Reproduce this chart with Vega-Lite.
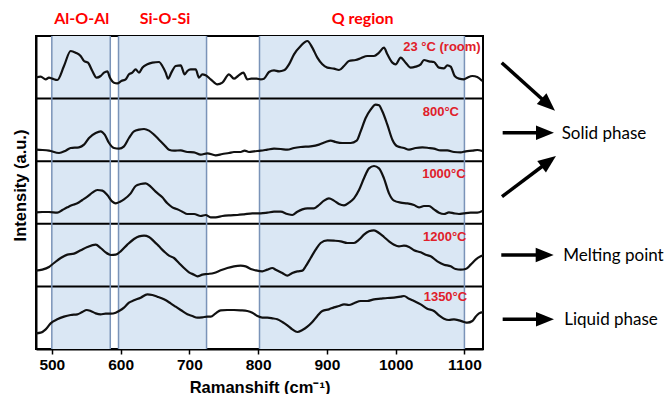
{
"$schema": "https://vega.github.io/schema/vega-lite/v6.json",
"width": 447, "height": 313,
"autosize": {"type": "none"},
"padding": {"left": 36, "top": 36, "right": 183, "bottom": 45},
"background": "white",
"config": {"view": {"stroke": "black", "strokeWidth": 2}, "font": "Liberation Sans",
 "axis": {"labelFont": "Liberation Sans", "labelFontWeight": 700, "labelFontSize": 15.5, "labelColor": "black",
  "titleFont": "Liberation Sans", "titleFontWeight": "bold", "titleColor": "black",
  "domainColor": "black", "domainWidth": 2, "tickColor": "black", "tickWidth": 1.5, "grid": false},
 "axisX": {"titleFontSize": 16.5, "labelPadding": 3},
 "axisY": {"titleFontSize": 16.5}},
"datasets": {
"spectra": [
{"t":"23","x":476.5,"y":814},{"t":"23","x":483.8,"y":817},{"t":"23","x":491.1,"y":809},{"t":"23","x":495.9,"y":814},{"t":"23","x":500.8,"y":811},{"t":"23","x":508.0,"y":807},{"t":"23","x":517.7,"y":849},{"t":"23","x":527.4,"y":894},{"t":"23","x":534.7,"y":889},{"t":"23","x":541.9,"y":879},{"t":"23","x":546.8,"y":864},{"t":"23","x":552.6,"y":859},{"t":"23","x":558.9,"y":834},{"t":"23","x":565.2,"y":814},{"t":"23","x":571.0,"y":819},{"t":"23","x":575.9,"y":829},{"t":"23","x":580.7,"y":833},{"t":"23","x":584.6,"y":814},{"t":"23","x":590.4,"y":799},{"t":"23","x":595.3,"y":797},{"t":"23","x":601.1,"y":804},{"t":"23","x":607.4,"y":809},{"t":"23","x":612.2,"y":824},{"t":"23","x":617.1,"y":829},{"t":"23","x":621.9,"y":839},{"t":"23","x":626.8,"y":829},{"t":"23","x":631.6,"y":844},{"t":"23","x":638.9,"y":854},{"t":"23","x":646.2,"y":859},{"t":"23","x":655.9,"y":861},{"t":"23","x":660.7,"y":849},{"t":"23","x":665.6,"y":829},{"t":"23","x":669.0,"y":811},{"t":"23","x":673.8,"y":829},{"t":"23","x":680.1,"y":849},{"t":"23","x":687.4,"y":851},{"t":"23","x":693.2,"y":824},{"t":"23","x":697.1,"y":834},{"t":"23","x":701.9,"y":839},{"t":"23","x":709.2,"y":839},{"t":"23","x":714.0,"y":814},{"t":"23","x":718.9,"y":824},{"t":"23","x":723.7,"y":821},{"t":"23","x":731.0,"y":809},{"t":"23","x":740.7,"y":794},{"t":"23","x":748.0,"y":799},{"t":"23","x":757.6,"y":824},{"t":"23","x":764.9,"y":811},{"t":"23","x":770.7,"y":819},{"t":"23","x":778.5,"y":829},{"t":"23","x":784.3,"y":809},{"t":"23","x":790.1,"y":811},{"t":"23","x":797.9,"y":811},{"t":"23","x":803.7,"y":809},{"t":"23","x":808.5,"y":811},{"t":"23","x":815.8,"y":831},{"t":"23","x":823.1,"y":836},{"t":"23","x":830.4,"y":833},{"t":"23","x":837.6,"y":836},{"t":"23","x":844.9,"y":854},{"t":"23","x":852.2,"y":884},{"t":"23","x":861.9,"y":909},{"t":"23","x":871.6,"y":924},{"t":"23","x":878.8,"y":904},{"t":"23","x":886.1,"y":874},{"t":"23","x":893.4,"y":854},{"t":"23","x":900.6,"y":844},{"t":"23","x":910.3,"y":841},{"t":"23","x":917.6,"y":837},{"t":"23","x":924.9,"y":849},{"t":"23","x":932.1,"y":864},{"t":"23","x":941.8,"y":867},{"t":"23","x":949.1,"y":872},{"t":"23","x":958.8,"y":879},{"t":"23","x":968.5,"y":879},{"t":"23","x":975.8,"y":889},{"t":"23","x":983.0,"y":904},{"t":"23","x":987.9,"y":884},{"t":"23","x":995.2,"y":859},{"t":"23","x":1000.0,"y":854},{"t":"23","x":1007.3,"y":874},{"t":"23","x":1014.5,"y":859},{"t":"23","x":1021.8,"y":844},{"t":"23","x":1029.1,"y":847},{"t":"23","x":1036.4,"y":854},{"t":"23","x":1041.2,"y":867},{"t":"23","x":1048.5,"y":863},{"t":"23","x":1055.7,"y":861},{"t":"23","x":1063.0,"y":844},{"t":"23","x":1070.3,"y":842},{"t":"23","x":1075.1,"y":851},{"t":"23","x":1080.0,"y":847},{"t":"23","x":1085.8,"y":819},{"t":"23","x":1092.1,"y":811},{"t":"23","x":1099.4,"y":809},{"t":"23","x":1104.2,"y":814},{"t":"23","x":1111.5,"y":819},{"t":"23","x":1118.7,"y":816},{"t":"23","x":1126.0,"y":804},
{"t":"800","x":476.5,"y":598},{"t":"800","x":486.2,"y":597},{"t":"800","x":495.9,"y":595},{"t":"800","x":510.5,"y":588},{"t":"800","x":520.1,"y":595},{"t":"800","x":527.4,"y":603},{"t":"800","x":539.5,"y":605},{"t":"800","x":546.8,"y":613},{"t":"800","x":554.1,"y":633},{"t":"800","x":563.8,"y":648},{"t":"800","x":571.0,"y":653},{"t":"800","x":576.9,"y":643},{"t":"800","x":583.2,"y":618},{"t":"800","x":590.4,"y":603},{"t":"800","x":597.7,"y":601},{"t":"800","x":605.0,"y":608},{"t":"800","x":612.2,"y":633},{"t":"800","x":619.5,"y":653},{"t":"800","x":626.8,"y":658},{"t":"800","x":634.1,"y":660},{"t":"800","x":641.3,"y":655},{"t":"800","x":648.6,"y":643},{"t":"800","x":655.9,"y":628},{"t":"800","x":663.1,"y":613},{"t":"800","x":670.4,"y":598},{"t":"800","x":677.7,"y":595},{"t":"800","x":687.4,"y":596},{"t":"800","x":697.1,"y":591},{"t":"800","x":706.8,"y":590},{"t":"800","x":716.5,"y":583},{"t":"800","x":726.1,"y":587},{"t":"800","x":738.3,"y":581},{"t":"800","x":748.0,"y":585},{"t":"800","x":757.6,"y":588},{"t":"800","x":764.9,"y":591},{"t":"800","x":774.6,"y":591},{"t":"800","x":780.4,"y":595},{"t":"800","x":786.7,"y":591},{"t":"800","x":794.0,"y":593},{"t":"800","x":803.7,"y":595},{"t":"800","x":813.4,"y":598},{"t":"800","x":823.1,"y":601},{"t":"800","x":832.8,"y":600},{"t":"800","x":842.5,"y":598},{"t":"800","x":852.2,"y":603},{"t":"800","x":861.9,"y":606},{"t":"800","x":876.4,"y":608},{"t":"800","x":888.5,"y":613},{"t":"800","x":898.2,"y":621},{"t":"800","x":905.5,"y":625},{"t":"800","x":912.7,"y":621},{"t":"800","x":922.4,"y":618},{"t":"800","x":934.6,"y":618},{"t":"800","x":943.3,"y":625},{"t":"800","x":949.1,"y":653},{"t":"800","x":956.4,"y":693},{"t":"800","x":963.6,"y":718},{"t":"800","x":970.9,"y":733},{"t":"800","x":975.8,"y":731},{"t":"800","x":980.6,"y":713},{"t":"800","x":987.9,"y":673},{"t":"800","x":995.2,"y":628},{"t":"800","x":1002.4,"y":608},{"t":"800","x":1012.1,"y":603},{"t":"800","x":1019.4,"y":598},{"t":"800","x":1029.1,"y":603},{"t":"800","x":1038.8,"y":605},{"t":"800","x":1048.5,"y":603},{"t":"800","x":1055.7,"y":601},{"t":"800","x":1065.4,"y":596},{"t":"800","x":1075.1,"y":596},{"t":"800","x":1084.8,"y":591},{"t":"800","x":1094.5,"y":590},{"t":"800","x":1101.8,"y":593},{"t":"800","x":1111.5,"y":595},{"t":"800","x":1118.7,"y":597},{"t":"800","x":1126.0,"y":594},
{"t":"1000","x":476.5,"y":410},{"t":"1000","x":486.2,"y":411},{"t":"1000","x":495.9,"y":411},{"t":"1000","x":508.0,"y":409},{"t":"1000","x":515.3,"y":417},{"t":"1000","x":522.6,"y":425},{"t":"1000","x":529.8,"y":432},{"t":"1000","x":537.1,"y":437},{"t":"1000","x":544.4,"y":447},{"t":"1000","x":551.7,"y":457},{"t":"1000","x":558.9,"y":469},{"t":"1000","x":566.2,"y":477},{"t":"1000","x":573.5,"y":475},{"t":"1000","x":580.7,"y":462},{"t":"1000","x":588.0,"y":442},{"t":"1000","x":592.9,"y":437},{"t":"1000","x":599.2,"y":442},{"t":"1000","x":605.0,"y":449},{"t":"1000","x":614.7,"y":467},{"t":"1000","x":621.9,"y":489},{"t":"1000","x":629.2,"y":495},{"t":"1000","x":636.5,"y":497},{"t":"1000","x":643.7,"y":487},{"t":"1000","x":651.0,"y":472},{"t":"1000","x":660.7,"y":455},{"t":"1000","x":668.0,"y":437},{"t":"1000","x":675.3,"y":425},{"t":"1000","x":682.5,"y":419},{"t":"1000","x":689.8,"y":412},{"t":"1000","x":697.1,"y":405},{"t":"1000","x":706.8,"y":405},{"t":"1000","x":716.5,"y":399},{"t":"1000","x":723.7,"y":402},{"t":"1000","x":731.0,"y":395},{"t":"1000","x":738.3,"y":395},{"t":"1000","x":748.0,"y":399},{"t":"1000","x":760.1,"y":401},{"t":"1000","x":769.8,"y":402},{"t":"1000","x":779.5,"y":404},{"t":"1000","x":791.6,"y":407},{"t":"1000","x":803.7,"y":407},{"t":"1000","x":813.4,"y":409},{"t":"1000","x":823.1,"y":412},{"t":"1000","x":832.8,"y":412},{"t":"1000","x":842.5,"y":405},{"t":"1000","x":849.7,"y":402},{"t":"1000","x":857.0,"y":412},{"t":"1000","x":864.3,"y":419},{"t":"1000","x":871.6,"y":422},{"t":"1000","x":881.2,"y":422},{"t":"1000","x":888.5,"y":432},{"t":"1000","x":895.8,"y":445},{"t":"1000","x":903.0,"y":452},{"t":"1000","x":910.3,"y":445},{"t":"1000","x":917.6,"y":435},{"t":"1000","x":924.9,"y":431},{"t":"1000","x":932.1,"y":439},{"t":"1000","x":939.4,"y":452},{"t":"1000","x":946.7,"y":477},{"t":"1000","x":953.9,"y":512},{"t":"1000","x":961.2,"y":542},{"t":"1000","x":968.5,"y":549},{"t":"1000","x":975.8,"y":542},{"t":"1000","x":983.0,"y":512},{"t":"1000","x":990.3,"y":467},{"t":"1000","x":997.6,"y":445},{"t":"1000","x":1007.3,"y":439},{"t":"1000","x":1017.0,"y":437},{"t":"1000","x":1026.7,"y":432},{"t":"1000","x":1033.9,"y":425},{"t":"1000","x":1041.2,"y":429},{"t":"1000","x":1048.5,"y":429},{"t":"1000","x":1055.7,"y":419},{"t":"1000","x":1063.0,"y":409},{"t":"1000","x":1070.3,"y":405},{"t":"1000","x":1077.5,"y":410},{"t":"1000","x":1084.8,"y":407},{"t":"1000","x":1092.1,"y":405},{"t":"1000","x":1099.4,"y":407},{"t":"1000","x":1109.1,"y":409},{"t":"1000","x":1118.7,"y":409},{"t":"1000","x":1126.0,"y":414},
{"t":"1200","x":476.5,"y":235},{"t":"1200","x":486.2,"y":238},{"t":"1200","x":495.9,"y":246},{"t":"1200","x":503.2,"y":258},{"t":"1200","x":512.9,"y":273},{"t":"1200","x":522.6,"y":283},{"t":"1200","x":532.3,"y":286},{"t":"1200","x":541.9,"y":296},{"t":"1200","x":551.7,"y":306},{"t":"1200","x":563.8,"y":313},{"t":"1200","x":571.0,"y":303},{"t":"1200","x":578.3,"y":290},{"t":"1200","x":585.6,"y":282},{"t":"1200","x":592.9,"y":283},{"t":"1200","x":600.1,"y":293},{"t":"1200","x":609.8,"y":313},{"t":"1200","x":619.5,"y":330},{"t":"1200","x":626.8,"y":338},{"t":"1200","x":634.1,"y":340},{"t":"1200","x":641.3,"y":336},{"t":"1200","x":648.6,"y":323},{"t":"1200","x":655.9,"y":308},{"t":"1200","x":663.1,"y":293},{"t":"1200","x":670.4,"y":280},{"t":"1200","x":677.7,"y":273},{"t":"1200","x":684.9,"y":258},{"t":"1200","x":692.2,"y":243},{"t":"1200","x":699.5,"y":230},{"t":"1200","x":706.8,"y":223},{"t":"1200","x":711.6,"y":218},{"t":"1200","x":718.9,"y":223},{"t":"1200","x":726.1,"y":225},{"t":"1200","x":735.8,"y":228},{"t":"1200","x":745.5,"y":236},{"t":"1200","x":755.2,"y":243},{"t":"1200","x":764.9,"y":248},{"t":"1200","x":774.6,"y":250},{"t":"1200","x":781.9,"y":248},{"t":"1200","x":789.2,"y":240},{"t":"1200","x":796.4,"y":236},{"t":"1200","x":806.1,"y":233},{"t":"1200","x":813.4,"y":238},{"t":"1200","x":820.7,"y":243},{"t":"1200","x":825.5,"y":238},{"t":"1200","x":835.2,"y":228},{"t":"1200","x":842.5,"y":220},{"t":"1200","x":849.7,"y":228},{"t":"1200","x":857.0,"y":233},{"t":"1200","x":864.3,"y":235},{"t":"1200","x":869.1,"y":248},{"t":"1200","x":876.4,"y":273},{"t":"1200","x":883.7,"y":298},{"t":"1200","x":890.9,"y":318},{"t":"1200","x":900.6,"y":326},{"t":"1200","x":910.3,"y":325},{"t":"1200","x":920.0,"y":323},{"t":"1200","x":929.7,"y":318},{"t":"1200","x":939.4,"y":318},{"t":"1200","x":946.7,"y":328},{"t":"1200","x":953.9,"y":343},{"t":"1200","x":961.2,"y":353},{"t":"1200","x":968.5,"y":356},{"t":"1200","x":975.8,"y":348},{"t":"1200","x":983.0,"y":336},{"t":"1200","x":990.3,"y":323},{"t":"1200","x":997.6,"y":313},{"t":"1200","x":1004.8,"y":308},{"t":"1200","x":1012.1,"y":310},{"t":"1200","x":1019.4,"y":306},{"t":"1200","x":1026.7,"y":296},{"t":"1200","x":1036.4,"y":290},{"t":"1200","x":1043.6,"y":283},{"t":"1200","x":1050.9,"y":278},{"t":"1200","x":1060.6,"y":263},{"t":"1200","x":1070.3,"y":253},{"t":"1200","x":1080.0,"y":248},{"t":"1200","x":1087.2,"y":240},{"t":"1200","x":1094.5,"y":238},{"t":"1200","x":1101.8,"y":240},{"t":"1200","x":1109.1,"y":253},{"t":"1200","x":1116.3,"y":268},{"t":"1200","x":1123.6,"y":278},{"t":"1200","x":1127.5,"y":281},
{"t":"1350","x":476.5,"y":47},{"t":"1350","x":483.8,"y":49},{"t":"1350","x":491.1,"y":59},{"t":"1350","x":498.3,"y":77},{"t":"1350","x":508.0,"y":89},{"t":"1350","x":517.7,"y":97},{"t":"1350","x":527.4,"y":102},{"t":"1350","x":537.1,"y":104},{"t":"1350","x":544.4,"y":111},{"t":"1350","x":550.7,"y":117},{"t":"1350","x":556.5,"y":114},{"t":"1350","x":563.8,"y":107},{"t":"1350","x":571.0,"y":104},{"t":"1350","x":578.3,"y":106},{"t":"1350","x":585.6,"y":106},{"t":"1350","x":592.9,"y":109},{"t":"1350","x":597.7,"y":114},{"t":"1350","x":605.0,"y":124},{"t":"1350","x":612.2,"y":139},{"t":"1350","x":619.5,"y":146},{"t":"1350","x":629.2,"y":154},{"t":"1350","x":638.9,"y":164},{"t":"1350","x":646.2,"y":162},{"t":"1350","x":653.4,"y":157},{"t":"1350","x":663.1,"y":149},{"t":"1350","x":672.8,"y":137},{"t":"1350","x":680.1,"y":127},{"t":"1350","x":687.4,"y":117},{"t":"1350","x":697.1,"y":104},{"t":"1350","x":704.3,"y":99},{"t":"1350","x":711.6,"y":94},{"t":"1350","x":718.9,"y":95},{"t":"1350","x":726.1,"y":97},{"t":"1350","x":731.0,"y":97},{"t":"1350","x":738.3,"y":107},{"t":"1350","x":745.5,"y":116},{"t":"1350","x":755.2,"y":117},{"t":"1350","x":764.9,"y":117},{"t":"1350","x":774.6,"y":116},{"t":"1350","x":784.3,"y":114},{"t":"1350","x":791.6,"y":109},{"t":"1350","x":798.9,"y":99},{"t":"1350","x":806.1,"y":94},{"t":"1350","x":813.4,"y":94},{"t":"1350","x":820.7,"y":92},{"t":"1350","x":827.9,"y":89},{"t":"1350","x":835.2,"y":81},{"t":"1350","x":842.5,"y":71},{"t":"1350","x":849.7,"y":59},{"t":"1350","x":857.0,"y":51},{"t":"1350","x":864.3,"y":57},{"t":"1350","x":871.6,"y":67},{"t":"1350","x":878.8,"y":81},{"t":"1350","x":886.1,"y":99},{"t":"1350","x":893.4,"y":114},{"t":"1350","x":903.0,"y":119},{"t":"1350","x":910.3,"y":125},{"t":"1350","x":917.6,"y":129},{"t":"1350","x":924.9,"y":134},{"t":"1350","x":932.1,"y":132},{"t":"1350","x":939.4,"y":137},{"t":"1350","x":949.1,"y":144},{"t":"1350","x":958.8,"y":144},{"t":"1350","x":968.5,"y":149},{"t":"1350","x":978.2,"y":151},{"t":"1350","x":987.9,"y":153},{"t":"1350","x":997.6,"y":154},{"t":"1350","x":1007.3,"y":157},{"t":"1350","x":1012.1,"y":159},{"t":"1350","x":1019.4,"y":151},{"t":"1350","x":1026.7,"y":144},{"t":"1350","x":1036.4,"y":134},{"t":"1350","x":1046.0,"y":121},{"t":"1350","x":1055.7,"y":114},{"t":"1350","x":1063.0,"y":101},{"t":"1350","x":1070.3,"y":91},{"t":"1350","x":1077.5,"y":87},{"t":"1350","x":1084.8,"y":89},{"t":"1350","x":1092.1,"y":86},{"t":"1350","x":1099.4,"y":81},{"t":"1350","x":1104.2,"y":79},{"t":"1350","x":1111.5,"y":84},{"t":"1350","x":1116.3,"y":97},{"t":"1350","x":1121.2,"y":107},{"t":"1350","x":1127.5,"y":111}
],
"bands": [{"a":500,"b":585},{"a":597,"b":725},{"a":802,"b":1100}],
"edges": [{"x":500},{"x":585},{"x":597},{"x":725},{"x":802},{"x":1100}],
"dividers": [{"y":187.8},{"y":375.6},{"y":563.4},{"y":751.2}],
"regions": [{"x":543.5,"y":990,"t":"Al-O-Al"},{"x":664.6,"y":990,"t":"Si-O-Si"},{"x":952,"y":990,"t":"Q region"}],
"temps": [{"x":1123.6,"y":906,"t":"23 °C (room)"},{"x":1092.1,"y":711,"t":"800°C"},{"x":1101.8,"y":524,"t":"1000°C"},{"x":1103,"y":336,"t":"1200°C"},{"x":1104,"y":155,"t":"1350°C"}],
"arrows": [
{"d":"down","x":1154.2,"y":858.9,"x2":1220.9,"y2":735,"tx":1231.7,"ty":714.9},
{"d":"flat","x":1155.6,"y":648.9,"x2":1215.7,"y2":648.9,"tx":1230.2,"ty":648.9},
{"d":"up","x":1154.6,"y":456.9,"x2":1221.5,"y2":561,"tx":1233.1,"ty":579},
{"d":"flat","x":1153.6,"y":282,"x2":1215.3,"y2":282,"tx":1229.8,"ty":282},
{"d":"flat","x":1155.6,"y":89.1,"x2":1215.7,"y2":89.1,"tx":1230.2,"ty":89.1}
],
"notes": [{"x":1241.4,"y":644,"t":"Solid phase"},{"x":1243.8,"y":279,"t":"Melting point"},{"x":1245.2,"y":87,"t":"Liquid phase"}]
},
"layer": [
{"data": {"name": "bands"}, "mark": {"type": "rect", "color": "#dae7f4"},
 "encoding": {"x": {"field": "a", "type": "quantitative", "scale": {"domain": [477, 1127], "nice": false, "zero": false},
   "axis": {"values": [500,550,600,650,700,750,800,850,900,950,1000,1050,1100], "format": "d", "labelExpr": "datum.value % 100 === 0 ? datum.label : ''",
    "labelFontWeight": 700, "labelFont": "Liberation Sans", "labelFontSize": 15.5,
    "tickSize": {"condition": {"test": "datum.value % 100 === 0", "value": 5}, "value": 3},
    "title": "Ramanshift (cm⁻¹)", "titleY": 38, "titleBaseline": "middle"}},
  "x2": {"field": "b"}}},
{"data": {"name": "dividers"}, "mark": {"type": "rule", "color": "black", "strokeWidth": 2},
 "encoding": {"y": {"field": "y", "type": "quantitative", "scale": {"domain": [0, 939], "nice": false, "zero": false},
   "axis": {"labels": false, "ticks": false,
    "title": "Intensity (a.u.)", "titleAngle": -90, "titleX": -11, "titleY": 149, "titleAlign": "center", "titleBaseline": "alphabetic"}}}},
{"data": {"name": "edges"}, "mark": {"type": "rule", "color": "#7a93b8", "strokeWidth": 1.5},
 "encoding": {"x": {"field": "x", "type": "quantitative"}}},
{"data": {"name": "spectra"}, "mark": {"type": "line", "color": "#111111", "strokeWidth": 2.2, "interpolate": "monotone", "clip": true},
 "encoding": {
  "x": {"field": "x", "type": "quantitative"},
  "y": {"field": "y", "type": "quantitative"},
  "detail": {"field": "t", "type": "nominal"}}},
{"data": {"name": "regions"}, "mark": {"type": "text", "font": "Lato", "fontWeight": "bold", "fontSize": 16, "color": "#ff0000", "align": "center", "baseline": "middle"},
 "encoding": {"x": {"field": "x", "type": "quantitative"}, "y": {"field": "y", "type": "quantitative"}, "text": {"field": "t"}}},
{"data": {"name": "temps"}, "mark": {"type": "text", "font": "Liberation Sans", "fontWeight": "bold", "fontSize": 13, "color": "#e0202a", "align": "right", "baseline": "middle"},
 "encoding": {"x": {"field": "x", "type": "quantitative"}, "y": {"field": "y", "type": "quantitative"}, "text": {"field": "t"}}},
{"data": {"name": "arrows"}, "mark": {"type": "rule", "color": "black", "strokeWidth": 3.5},
 "encoding": {"x": {"field": "x", "type": "quantitative"}, "y": {"field": "y", "type": "quantitative"}, "x2": {"field": "x2"}, "y2": {"field": "y2"}}},
{"data": {"name": "arrows"}, "transform": [{"filter": "datum.d === 'flat'"}],
 "mark": {"type": "point", "shape": "M -2 -0.8 L 0 0 L -2 0.8 Z", "filled": true, "color": "black", "opacity": 1, "size": 324, "angle": 0},
 "encoding": {"x": {"field": "tx", "type": "quantitative"}, "y": {"field": "ty", "type": "quantitative"}}},
{"data": {"name": "arrows"}, "transform": [{"filter": "datum.d === 'down'"}],
 "mark": {"type": "point", "shape": "M -2 -0.8 L 0 0 L -2 0.8 Z", "filled": true, "color": "black", "opacity": 1, "size": 324, "angle": 42},
 "encoding": {"x": {"field": "tx", "type": "quantitative"}, "y": {"field": "ty", "type": "quantitative"}}},
{"data": {"name": "arrows"}, "transform": [{"filter": "datum.d === 'up'"}],
 "mark": {"type": "point", "shape": "M -2 -0.8 L 0 0 L -2 0.8 Z", "filled": true, "color": "black", "opacity": 1, "size": 324, "angle": -37},
 "encoding": {"x": {"field": "tx", "type": "quantitative"}, "y": {"field": "ty", "type": "quantitative"}}},
{"data": {"name": "notes"}, "mark": {"type": "text", "font": "Lato", "fontSize": 17, "color": "black", "align": "left", "baseline": "middle"},
 "encoding": {"x": {"field": "x", "type": "quantitative"}, "y": {"field": "y", "type": "quantitative"}, "text": {"field": "t"}}}
]
}
